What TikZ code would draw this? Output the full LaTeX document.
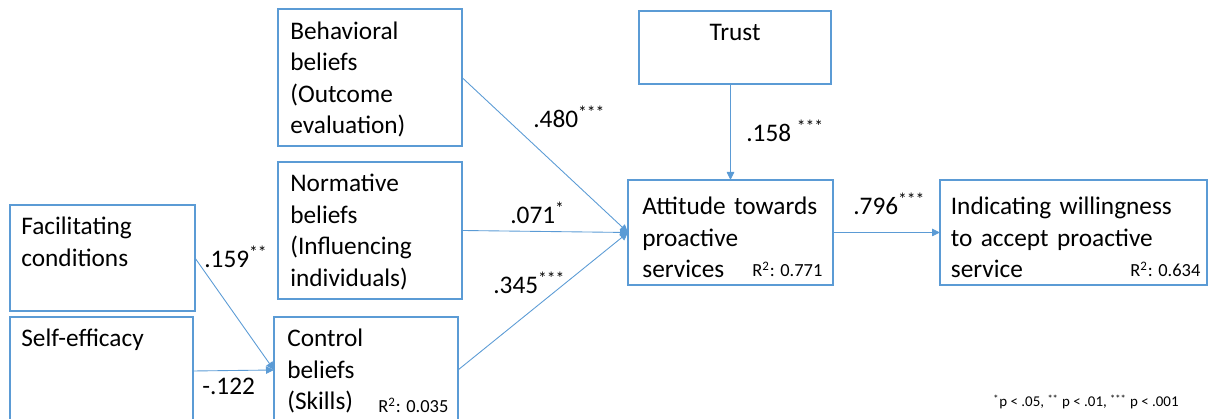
\documentclass[tikz,border=0pt]{standalone}
\usepackage{fontspec}
\setmainfont{Carlito}
\usepackage{xcolor}
\usetikzlibrary{arrows.meta,positioning,calc}

\definecolor{pathblue}{HTML}{5B9BD5}

\begin{document}
\begin{tikzpicture}[
  box/.style={draw=pathblue, line width=0.7pt, inner sep=0pt, outer sep=0pt, anchor=north west},
  txt/.style={anchor=base west, align=left, text width=5.2cm, inner sep=0pt, font=\fontsize{14.4}{17.9}\selectfont},
  coef/.style={anchor=base west, inner sep=0pt, font=\fontsize{14.4}{17.9}\selectfont},
  rsq/.style={anchor=base west, inner sep=0pt, font=\fontsize{10.5}{12}\selectfont},
  link/.style={draw=pathblue, line width=0.5pt, -{Triangle[length=0.16cm, width=0.15cm]}}
]
  % Bounding box
  \clip (0, 0) rectangle (24.18, 8.38);

  % Constructs
  \node[box, minimum width=3.68cm, minimum height=2.74cm] (behav) at (5.56, 8.20) {};
  \node[box, minimum width=3.68cm, minimum height=2.74cm] (norm) at (5.56, 5.14) {};
  \node[box, minimum width=3.68cm, minimum height=2.12cm] (ctrl) at (5.48, 2.04) {};
  \node[box, minimum width=3.70cm, minimum height=2.12cm] (fac) at (0.20, 4.28) {};
  \node[box, minimum width=3.66cm, minimum height=2.16cm] (selfeff) at (0.20, 2.04) {};
  \node[box, minimum width=3.84cm, minimum height=1.46cm] (trust) at (12.78, 8.16) {};
  \node[box, minimum width=4.10cm, minimum height=2.10cm] (att) at (12.56, 4.78) {};
  \node[box, minimum width=5.34cm, minimum height=2.10cm] (ind) at (18.80, 4.78) {};

  % Construct texts
  \node[txt] (behav-t) at (5.80, 7.59) {Behavioral\\beliefs\\(Outcome\\evaluation)};
  \node[txt] (norm-t) at (5.80, 4.54) {Normative\\beliefs\\(Influencing\\individuals)};
  \node[txt] (ctrl-t) at (5.74, 1.44) {Control\\beliefs\\(Skills)};
  \node[txt] (fac-t) at (0.42, 3.68) {Facilitating\\conditions};
  \node[txt] (selfeff-t) at (0.42, 1.44) {Self-efficacy};
  \node[coef, anchor=base] (trust-t) at (14.70, 7.56) {Trust};
  \node[txt] (att-t) at (12.84, 4.08) {Attitude towards\\proactive\\services};
  \node[txt] (ind-t) at (19.01, 4.08) {Indicating willingness\\to accept proactive\\service};

  % Paths
  \draw[link] (behav.east) -- (att.west);
  \draw[link] (norm.east) -- (att.west);
  \draw[link] (ctrl.east) -- (att.west);
  \draw[link] (att.north |- trust.south) -- (att.north);
  \draw[link] (att.east) -- (ind.west);
  \draw[link] (fac.east) -- (ctrl.west);
  \draw[link] (selfeff.east) -- (ctrl.west);

  % Path coefficients
  \node[coef] (c-behav) at (10.66, 5.82) {.480\textsuperscript{***}};
  \node[coef] (c-trust) at (14.92, 5.54) {.158 \textsuperscript{***}};
  \node[coef] (c-norm) at (10.20, 3.90) {.071\textsuperscript{*}};
  \node[coef] (c-ctrl) at (9.86, 2.50) {.345\textsuperscript{***}};
  \node[coef] (c-att) at (17.06, 4.08) {.796\textsuperscript{***}};
  \node[coef] (c-fac) at (4.08, 3.02) {.159\textsuperscript{**}};
  \node[coef] (c-selfeff) at (4.04, 0.48) {-.122};

  % Explained variance
  \node[rsq] (r-ctrl) at (7.56, 0.12) {R\textsuperscript{2}: 0.035};
  \node[rsq] (r-att) at (15.04, 2.84) {R\textsuperscript{2}: 0.771};
  \node[rsq] (r-ind) at (22.60, 2.84) {R\textsuperscript{2}: 0.634};

  \node[anchor=base west, inner sep=0pt, font=\fontsize{8.5}{10}\selectfont] (sig) at (19.86, 0.24)
    {\textsuperscript{*}p < .05, \textsuperscript{**} p < .01, \textsuperscript{***} p < .001};
\end{tikzpicture}
\end{document}
